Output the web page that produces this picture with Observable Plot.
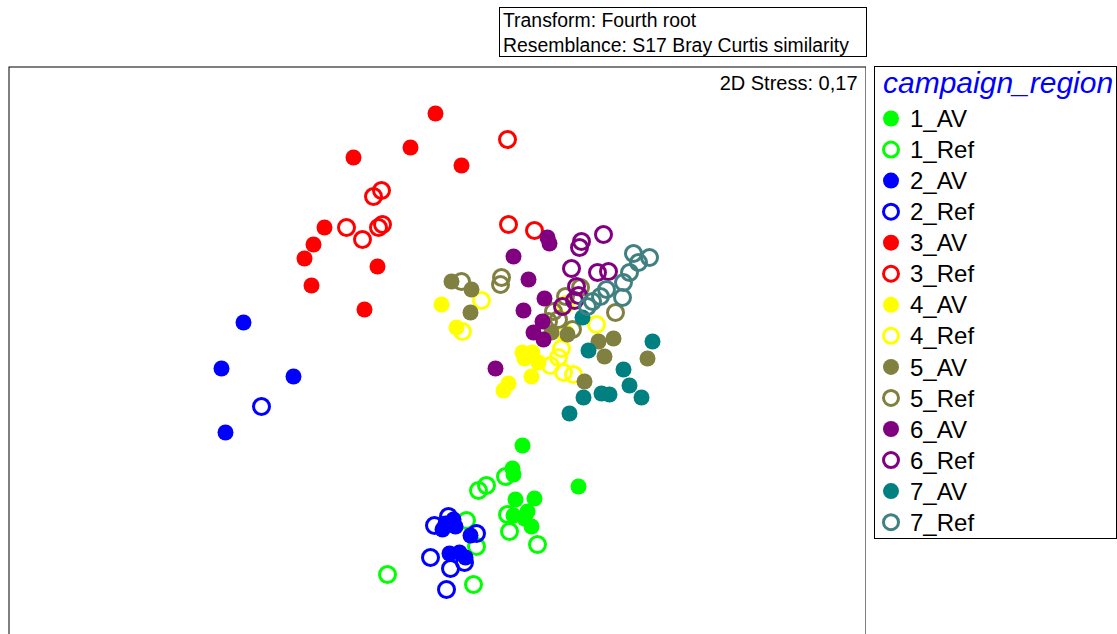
<!DOCTYPE html>
<html><head><meta charset="utf-8">
<script src="https://cdn.jsdelivr.net/npm/d3@7"></script>
<script src="https://cdn.jsdelivr.net/npm/@observablehq/plot@0.6"></script>
<style>
body{margin:0;background:#fff;font-family:"Liberation Sans",Arial,sans-serif;}
#wrap{position:relative;width:1117px;height:634px;overflow:hidden;background:#fff;}
#titlebox{position:absolute;left:499px;top:7px;width:363px;height:48px;border:1px solid #000;font-size:19.4px;line-height:25px;padding-left:3px;color:#000;white-space:nowrap;}
#chart{position:absolute;left:8px;top:66px;}
#legend{position:absolute;left:874px;top:66px;}
</style>
</head><body>
<div id="wrap">
  <div id="titlebox">Transform: Fourth root<br>Resemblance: S17 Bray Curtis similarity</div>
  <div id="chart"></div>
  <div id="legend"></div>
</div>
<script>
// Legend / group definitions
const groups = ["1_AV","1_Ref","2_AV","2_Ref","3_AV","3_Ref","4_AV","4_Ref","5_AV","5_Ref","6_AV","6_Ref","7_AV","7_Ref"];
const groupColors = ["#00ff00","#00ff00","#0000ff","#0000ff","#ff0000","#ff0000","#ffff00","#ffff00","#808040","#808040","#800080","#800080","#008080","#408080"];
const legendTitle = "campaign_region";
const stressLabel = "2D Stress: 0,17";

// NMDS coordinates (MDS1, MDS2) per group
const av1  = [[0.86,-0.96],[0.76,-1.19],[0.77,-1.25],[1.42,-1.37],[0.79,-1.50],[0.98,-1.49],[0.77,-1.66],[0.91,-1.62],[0.88,-1.69],[0.95,-1.77]];
const ref1 = [[0.69,-1.27],[0.50,-1.36],[0.42,-1.41],[0.71,-1.65],[0.73,-1.82],[1.01,-1.95],[0.30,-1.71],[0.40,-1.97],[-0.49,-2.25],[0.37,-2.35]];
const av2  = [[-1.93,0.27],[-2.15,-0.19],[-1.43,-0.27],[-2.11,-0.83],[0.09,-1.74],[0.17,-1.70],[0.06,-1.80],[0.19,-1.77],[0.34,-1.86],[0.13,-2.04],[0.23,-2.03],[0.29,-2.08]];
const ref2 = [[-1.75,-0.57],[-0.02,-1.76],[0.12,-1.67],[0.40,-1.84],[-0.06,-2.08],[0.14,-2.19],[0.28,-2.13],[0.10,-2.40]];
const av3  = [[-0.01,2.36],[-0.26,2.02],[-0.83,1.92],[0.25,1.84],[-1.12,1.22],[-1.23,1.05],[-1.32,0.91],[-0.59,0.83],[-1.25,0.64],[-0.72,0.40]];
const ref3 = [[0.71,2.10],[-0.55,1.59],[-0.63,1.53],[-0.90,1.22],[-0.74,1.10],[-0.54,1.25],[-0.58,1.22],[0.72,1.25],[0.98,1.19]];
const av4  = [[0.05,0.45],[0.20,0.22],[0.86,-0.03],[0.96,-0.03],[0.88,-0.09],[1.02,-0.13],[0.95,-0.27],[0.72,-0.34],[0.67,-0.41]];
const ref4 = [[0.45,0.49],[0.26,0.18],[1.60,0.25],[1.29,0.16],[1.25,0.01],[1.22,-0.08],[1.14,-0.16],[1.27,-0.23],[1.37,-0.25],[1.29,0.45]];
const av5  = [[0.15,0.68],[0.35,0.60],[0.34,0.37],[1.15,0.17],[1.31,0.15],[1.62,0.08],[1.77,0.11],[1.68,-0.07],[2.11,-0.09],[1.48,-0.32]];
const ref5 = [[0.25,0.68],[0.65,0.72],[0.64,0.65],[1.44,0.62],[1.79,0.37],[1.29,0.53],[1.17,0.38],[1.22,0.30],[1.12,0.28],[1.36,0.20]];
const av6  = [[1.11,1.12],[1.13,1.06],[0.77,0.93],[0.92,0.70],[1.08,0.51],[0.87,0.39],[1.06,0.28],[0.97,0.17],[1.07,0.10],[0.59,-0.19]];
const ref6 = [[1.67,1.15],[1.45,1.08],[1.43,1.02],[1.35,0.81],[1.61,0.77],[1.72,0.78],[1.40,0.63],[1.42,0.54],[1.38,0.49],[1.26,0.43]];
const av7  = [[1.46,0.32],[2.16,0.08],[1.52,-0.01],[1.87,-0.20],[1.93,-0.36],[1.65,-0.44],[1.73,-0.45],[2.05,-0.48],[1.47,-0.48],[1.33,-0.64]];
const ref7 = [[1.97,0.96],[2.13,0.92],[2.02,0.87],[1.93,0.77],[1.87,0.67],[1.70,0.60],[1.86,0.52],[1.64,0.53],[1.56,0.48],[1.51,0.43]];

const series = [av1, ref1, av2, ref2, av3, ref3, av4, ref4, av5, ref5, av6, ref6, av7, ref7];

const data = [];
series.forEach((pts, i) => {
  const g = groups[i];
  const filled = g.endsWith("_AV");
  pts.forEach(([x, y]) => data.push({x, y, group: g, filled, color: groupColors[i]}));
});

const chart = Plot.plot({
  width: 858,
  height: 600,
  margin: 0,
  x: {domain: [-4.28, 4.30], axis: null},
  y: {domain: [-3.17, 2.83], axis: null},
  color: {type: "identity"},
  style: {fontFamily: "'Liberation Sans', Arial, sans-serif", background: "transparent"},
  marks: [
    Plot.frame({stroke: "#000", inset: 0.5}),
    Plot.dot(data, {
      x: "x", y: "y", r: 8,
      fill: d => d.filled ? d.color : "none",
      stroke: d => d.filled ? "none" : d.color,
      strokeWidth: 3
    }),
    Plot.text([stressLabel], {
      text: d => d, frameAnchor: "top-right", dx: -9, dy: 9,
      fontSize: 20, fill: "#000", textAnchor: "end", lineAnchor: "top"
    })
  ]
});
document.getElementById("chart").appendChild(chart);

// Legend
const lw = 243, lh = 473;
const svg = d3.select("#legend").append("svg").attr("width", lw).attr("height", lh)
  .style("font-family", "'Liberation Sans', Arial, sans-serif");
svg.append("rect").attr("x", 0.5).attr("y", 0.5).attr("width", lw - 1).attr("height", lh - 1)
  .attr("fill", "#fff").attr("stroke", "#000");
svg.append("text").attr("x", 9).attr("y", 27).attr("fill", "#0000ff")
  .attr("font-size", 30).attr("font-style", "italic").text(legendTitle);
groups.forEach((g, i) => {
  const cy = 52.5 + i * 31.05;
  const filled = g.endsWith("_AV");
  svg.append("circle").attr("cx", 17).attr("cy", cy).attr("r", filled ? 8 : 7.5)
    .attr("fill", filled ? groupColors[i] : "none")
    .attr("stroke", filled ? "none" : groupColors[i]).attr("stroke-width", 3);
  svg.append("text").attr("x", 36).attr("y", cy).attr("dy", "0.36em")
    .attr("font-size", 24).attr("fill", "#000").text(g);
});
</script>
</body></html>
